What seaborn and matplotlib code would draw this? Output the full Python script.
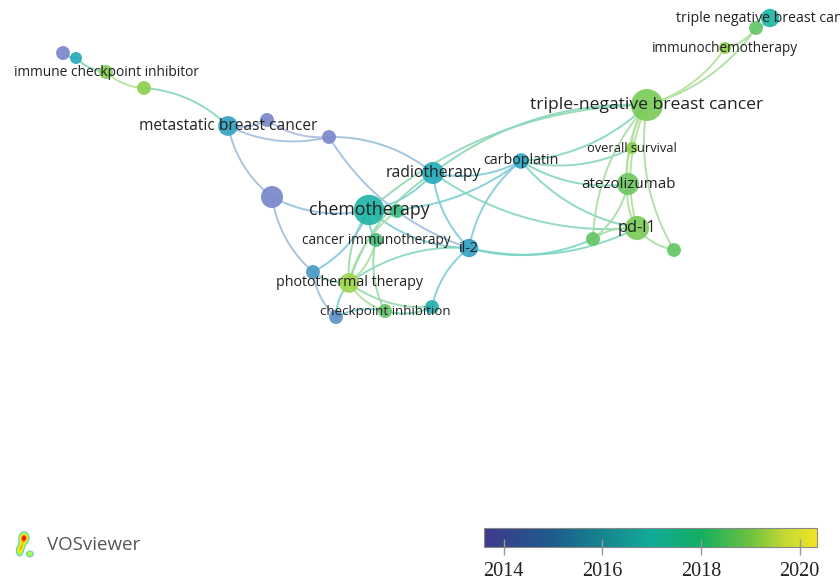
import numpy as np
import pandas as pd
import matplotlib
matplotlib.use("Agg")
import matplotlib.pyplot as plt
import seaborn as sns
from matplotlib.colors import Normalize, to_rgb, LinearSegmentedColormap

# ---------------- data ----------------
node_labels = ["", "", "immune checkpoint inhibitor", "", "metastatic breast cancer",
               "", "", "", "chemotherapy", "", "radiotherapy", "carboplatin",
               "triple-negative breast cancer", "triple negative breast cancer", "",
               "immunochemotherapy", "overall survival", "atezolizumab", "pd-l1", "", "",
               "il-2", "cancer immunotherapy", "", "photothermal therapy",
               "checkpoint inhibition", "", ""]
node_x = [63, 76, 106, 144, 228, 267, 329, 272, 369, 397, 433, 521, 647, 770, 756,
          725, 632, 628, 637, 593, 674, 469, 376, 313, 349, 385, 432, 336]
node_y = [53, 58, 72, 88, 126, 120, 137, 197, 210, 211, 173, 161, 105, 18, 28,
          48, 148, 184, 228, 239, 250, 248, 240, 272, 283, 311, 307, 317]
avg_year = [2014.0, 2016.2, 2018.8, 2019.0, 2015.8, 2014.0, 2014.0, 2014.0, 2016.8, 2017.6,
            2016.3, 2016.0, 2018.7, 2016.9, 2018.3, 2019.0, 2019.0, 2018.5, 2018.7, 2018.3,
            2018.3, 2015.8, 2017.8, 2015.3, 2019.2, 2018.3, 2016.5, 2014.8]
occurrences = [4, 3, 4, 4, 8, 4, 4, 10, 19, 4, 10, 5, 21, 7, 4,
               3, 3, 10, 12, 4, 4, 7, 4, 4, 8, 4, 4, 4]
edges = [(0, 1), (1, 2), (2, 3), (4, 3), (4, 5), (4, 6), (5, 6), (4, 7),
         (10, 6), (6, 21), (7, 8), (7, 23), (8, 10), (8, 11), (12, 8), (8, 9),
         (8, 22), (8, 24), (8, 21), (10, 11), (12, 10), (10, 21), (10, 18),
         (10, 24), (11, 12), (11, 17), (11, 18), (11, 21), (11, 16), (12, 14),
         (12, 15), (12, 16), (12, 17), (12, 18), (12, 20), (12, 19), (14, 13),
         (15, 14), (17, 18), (16, 17), (18, 19), (18, 20), (19, 17), (21, 18),
         (21, 19), (21, 26), (21, 24), (23, 24), (23, 27), (23, 8), (24, 25),
         (24, 22), (24, 26), (25, 27), (25, 26), (24, 27), (22, 25), (9, 24)]

year_ticks = [2014, 2016, 2018, 2020]
year_min, year_max = 2013.6, 2020.35

# ---------------- colour scales ----------------
bar_anchor_years = [2013.6, 2015.0, 2016.0, 2017.0, 2018.0, 2019.0, 2019.7, 2020.35]
bar_anchor_cols = ["#3e3a8c", "#1d5c8c", "#16858f", "#12ab98", "#13ae62", "#6cc240",
                   "#c2d834", "#f2e424"]
node_anchor_cols = ["#8883cc", "#5a94c8", "#2aa6c0", "#1eb8a2", "#52c072", "#8cd050",
                    "#c4e040", "#e8e840"]
pos = [(v - year_min) / (year_max - year_min) for v in bar_anchor_years]
bar_cmap = LinearSegmentedColormap.from_list("vos_bar", list(zip(pos, bar_anchor_cols)))
node_cmap = LinearSegmentedColormap.from_list("vos_node", list(zip(pos, node_anchor_cols)))
norm = Normalize(year_min, year_max)


def lighten(c, a):
    r = np.array(to_rgb(c))
    return tuple(a * r + (1 - a) * 1.0)


# ---------------- figure ----------------
W, H = 840, 581
fig = plt.figure(figsize=(W / 100, H / 100), dpi=100)
ax = fig.add_axes([0, 0, 1, 1])

# curved edges (quadratic Bezier)
t = np.linspace(0, 1, 40)
for (i, j) in edges:
    x0, y0, x1, y1 = node_x[i], node_y[i], node_x[j], node_y[j]
    mx, my = (x0 + x1) / 2, (y0 + y1) / 2
    dx, dy = x1 - x0, y1 - y0
    cx, cy = mx - 0.18 * dy, my + 0.18 * dx
    bx = (1 - t) ** 2 * x0 + 2 * (1 - t) * t * cx + t ** 2 * x1
    by = (1 - t) ** 2 * y0 + 2 * (1 - t) * t * cy + t ** 2 * y1
    col = lighten(node_cmap(norm((avg_year[i] + avg_year[j]) / 2)), 0.6)
    ax.plot(bx, by, color=col, lw=1.4, alpha=0.9, solid_capstyle="round", zorder=1)

df = pd.DataFrame({"x": node_x, "y": node_y, "year": avg_year, "occ": occurrences})
df["c"] = range(len(df))
node_colors = [node_cmap(norm(v)) for v in avg_year]
sns.scatterplot(data=df, x="x", y="y", hue="c", size="occ", sizes=(75, 530),
                palette=node_colors, legend=False, linewidth=0, alpha=0.92,
                ax=ax, zorder=2)

font_sizes = {"chemotherapy": 12.8, "triple-negative breast cancer": 12.6,
              "metastatic breast cancer": 11.2, "radiotherapy": 11.3, "pd-l1": 11.8,
              "atezolizumab": 10.9, "carboplatin": 10.3, "il-2": 10.2,
              "photothermal therapy": 10.3, "immune checkpoint inhibitor": 9.9,
              "triple negative breast cancer": 10.2, "immunochemotherapy": 9.8,
              "cancer immunotherapy": 9.8, "overall survival": 9.3,
              "checkpoint inhibition": 9.6}
for lab, x, y in zip(node_labels, node_x, node_y):
    if lab:
        ax.text(x, y, lab, ha="center", va="center", fontsize=font_sizes.get(lab, 9),
                family="Open Sans", color="#222222", zorder=3)

# VOSviewer logo (small density blob)
gx, gy = np.meshgrid(np.linspace(8, 40, 120), np.linspace(525, 565, 150))
dens = (1.0 * np.exp(-(((gx - 24) / 4.5) ** 2 + ((gy - 538) / 5.5) ** 2))
        + 0.6 * np.exp(-(((gx - 19.5) / 3.6) ** 2 + ((gy - 551) / 5.5) ** 2))
        + 0.55 * np.exp(-(((gx - 30) / 4.0) ** 2 + ((gy - 554) / 3.4) ** 2))
        + 0.45 * np.exp(-(((gx - 22) / 3.0) ** 2 + ((gy - 546) / 4.0) ** 2)))
dens = np.ma.masked_less(dens, 0.25)
ax.imshow(dens, extent=(8, 40, 565, 525), cmap="jet", vmin=-0.35, vmax=1.1,
          interpolation="bilinear", zorder=2, aspect="auto")
ax.text(47, 545, "VOSviewer", ha="left", va="center", fontsize=13.5,
        family="Open Sans", color="#555555")
ax.set_xlim(0, W)
ax.set_ylim(H, 0)
ax.axis("off")

# colorbar
cax = fig.add_axes([484 / W, (H - 547) / H, 333 / W, 19 / H])
sm = matplotlib.cm.ScalarMappable(norm=norm, cmap=bar_cmap)
cb = fig.colorbar(sm, cax=cax, orientation="horizontal", ticks=year_ticks)
cb.outline.set_edgecolor("#888888")
cb.outline.set_linewidth(0.8)
cax.tick_params(direction="inout", length=12, width=1, color="#999999", pad=5,
                labelsize=14.5)
for tl in cax.get_xticklabels():
    tl.set_family("Liberation Serif")
    tl.set_color("#222222")

fig.savefig("out.png", dpi=100)
